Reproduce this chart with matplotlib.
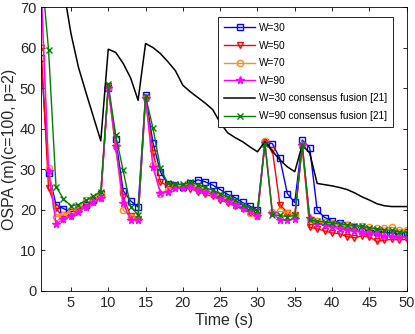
import numpy as np
import matplotlib
matplotlib.use('Agg')
import matplotlib.pyplot as plt

plt.rcParams['font.family'] = ['Liberation Sans', 'DejaVu Sans']

# Tiempo (s)
t = np.arange(1, 51)

w30 = [57.5, 29, 21.3, 20.3, 19.5, 20.2, 21.3, 22.5, 23.8, 50,
       37.5, 24.7, 22.2, 20.7, 48.3, 36.5, 29.3, 26.3, 26, 25.5,
       26.5, 27.4, 26.9, 26.1, 25, 23.8, 23, 21.8, 20.9, 19.9,
       36.8, 36.3, 32.7, 24, 21.8, 37.2, 35.3, 19.9, 18.1, 17.3,
       16.8, 16.2, 15.8, 15.5, 15.1, 14.6, 14.4, 14.3, 14.1, 14.5]
w50 = [60, 25.3, 20.5, 17.8, 18.5, 19.6, 20.8, 22, 23, 50.5,
       35, 23.2, 18.5, 17.8, 47.5, 34, 26.9, 25.8, 25.5, 25.5,
       25.2, 24.5, 23.8, 23.3, 22.5, 21.7, 21, 20.1, 19.3, 18.7,
       36.5, 34.7, 21.3, 19.3, 18.6, 35.4, 15.7, 15.3, 14.8, 14.3,
       14.1, 13.4, 13.1, 13.6, 13.3, 12.2, 12.5, 12.7, 12.6, 12.7]
w70 = [75, 30.2, 18.3, 18.8, 19.8, 20.5, 22.5, 23, 24, 50,
       35.8, 19.9, 18.3, 17.8, 47.5, 31.1, 23.8, 25, 25.8, 25.8,
       26, 25.6, 25, 24.2, 23.5, 22.6, 21.7, 20.7, 19.2, 18.5,
       37, 19.5, 19.6, 19.3, 18.6, 36, 17.8, 17.2, 16.9, 16.7,
       16.4, 16.2, 16, 15.9, 15.7, 15.4, 15.5, 15.7, 15.1, 14.9]
w90 = [75, 29.5, 16.5, 17.7, 18.5, 19.5, 20.7, 21.8, 22.8, 50,
       35.8, 21.6, 17.5, 17.6, 47.5, 30.5, 24.2, 24.5, 25.3, 25.3,
       25.8, 25, 24.4, 23.8, 23, 22.2, 21.3, 20.5, 19.6, 18.5,
       36.5, 19.2, 17.5, 17.4, 17.7, 36, 18.1, 16.6, 16.2, 15.7,
       15.3, 15, 14.7, 14.5, 14.4, 14, 13.6, 13.6, 13.3, 13.3]
w30_cf = [90, 85, 80, 74.5, 63.5, 55.2, 49, 43, 37, 59.6,
          58.8, 56.1, 52.5, 47, 61, 60, 58.5, 56.5, 54.3, 50.7,
          49.1, 47.7, 46.3, 44.7, 41.5, 39, 37.8, 36.8, 35.5, 34.3,
          36.8, 34.5, 32.3, 30.6, 29.4, 36, 34, 26.5, 26.2, 25.9,
          25.5, 25, 24.2, 23.2, 22.4, 21.5, 21, 20.8, 20.8, 20.8]
w90_cf = [80, 59.5, 25.7, 22.7, 21, 21.3, 22.3, 23.3, 24.5, 51,
          38.4, 29.7, 20.8, 18.7, 48, 40.1, 30.2, 26.5, 26.3, 26.3,
          26.8, 26.2, 25.5, 24.8, 24, 23.2, 22.3, 21.3, 20.5, 19.6,
          36.2, 18.8, 18.6, 18.3, 18.6, 36.1, 17.5, 17.2, 17, 16.8,
          16.5, 16.3, 16.1, 15.9, 15.6, 15.3, 15.1, 14.9, 14.6, 14.4]

fig = plt.figure(figsize=(4.15, 3.34), dpi=100)
ax = fig.add_axes([0.099, 0.129, 0.881, 0.85])

ms = 4.5
ax.plot(t, w30, '-s', color='#0000ff', mfc='none', ms=ms, lw=1, label='W=30')
ax.plot(t, w50, '-v', color='#ff0000', mfc='none', ms=ms + 0.5, lw=1, label='W=50')
ax.plot(t, w70, '-o', color='#ff8c1a', mfc='none', ms=ms, lw=1, label='W=70')
ax.plot(t, w90, '-*', color='#ff00ff', ms=ms + 1, lw=1, label='W=90')
ax.plot(t, w30_cf, '-', color='black', lw=1.1, label='W=30 consensus fusion [21]')
ax.plot(t, w90_cf, '-x', color='#008000', ms=ms, lw=1, label='W=90 consensus fusion [21]')

ax.set_xlim(1, 50)
ax.set_ylim(0, 70)
ax.set_xticks(range(5, 51, 5))
ax.set_yticks(range(0, 71, 10))
ax.tick_params(direction='in', top=True, right=True, labelsize=10.5, length=3, width=0.6,
               labelcolor='#262626')
for s in ax.spines.values():
    s.set_linewidth(0.6)
ax.set_xlabel('Time (s)', fontsize=11.5, labelpad=2, color='#262626')
ax.set_ylabel('OSPA (m)(c=100, p=2)', fontsize=11.5, labelpad=2, color='#262626')

leg = ax.legend(loc='upper right', bbox_to_anchor=(0.963, 0.965), borderaxespad=0,
                fontsize=7.3, fancybox=False, framealpha=1, edgecolor='black',
                handlelength=3.0, handletextpad=0.4, labelspacing=0.75, borderpad=0.6)
leg.get_frame().set_linewidth(0.6)

plt.savefig('out.png', dpi=100)
plt.close()
